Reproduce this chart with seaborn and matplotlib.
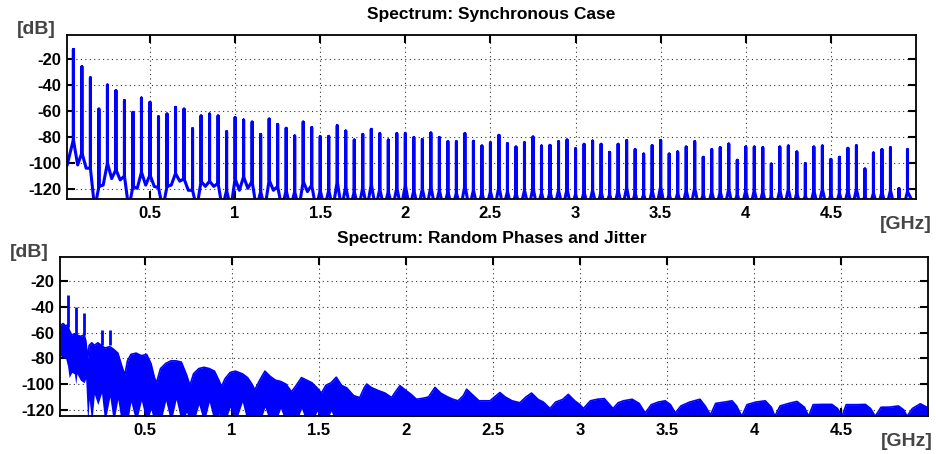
import numpy as np
import matplotlib
matplotlib.use("Agg")
import matplotlib.pyplot as plt
import seaborn as sns

# ---------------- data: synchronous case (harmonic spectrum) ----------------
harmonic_ghz = [0.05, 0.10, 0.15, 0.20, 0.25, 0.30, 0.35, 0.40, 0.45, 0.50,
                0.55, 0.60, 0.65, 0.70, 0.75, 0.80, 0.85, 0.90, 0.95, 1.00,
                1.05, 1.10, 1.15, 1.20, 1.25, 1.30, 1.35, 1.40, 1.45, 1.50,
                1.55, 1.60, 1.65, 1.70, 1.75, 1.80, 1.85, 1.90, 1.95, 2.00,
                2.05, 2.10, 2.15, 2.20, 2.25, 2.30, 2.35, 2.40, 2.45, 2.50,
                2.55, 2.60, 2.65, 2.70, 2.75, 2.80, 2.85, 2.90, 2.95, 3.00,
                3.05, 3.10, 3.15, 3.20, 3.25, 3.30, 3.35, 3.40, 3.45, 3.50,
                3.55, 3.60, 3.65, 3.70, 3.75, 3.80, 3.85, 3.90, 3.95, 4.00,
                4.05, 4.10, 4.15, 4.20, 4.25, 4.30, 4.35, 4.40, 4.45, 4.50,
                4.55, 4.60, 4.65, 4.70, 4.75, 4.80, 4.85, 4.90, 4.95]

peak_db = [-12.6, -25.9, -34.4, -58.5, -40.0, -44.4, -52.0, -61.0, -50.0, -53.3,
           -64.4, -62.3, -57.2, -58.5, -73.6, -63.8, -62.3, -63.8, -75.9, -65.1,
           -66.9, -68.5, -78.0, -66.2, -70.3, -73.3, -79.2, -68.5, -72.8, -79.7,
           -79.5, -71.3, -75.4, -82.3, -78.0, -74.1, -77.4, -82.3, -77.4, -77.4,
           -80.5, -82.0, -76.9, -80.5, -83.6, -83.6, -77.4, -83.3, -86.9, -84.4,
           -78.7, -85.1, -87.7, -84.4, -80.0, -86.9, -86.4, -83.6, -82.3, -89.0,
           -85.6, -83.1, -85.6, -91.8, -85.6, -82.8, -89.7, -93.1, -86.7, -82.6,
           -93.1, -91.5, -87.7, -83.6, -95.6, -89.7, -88.2, -85.4, -97.9, -87.7,
           -87.7, -88.2, -100.8, -87.7, -86.9, -91.5, -100.5, -87.7, -86.9, -97.2,
           -95.6, -88.7, -86.7, -104.6, -92.3, -89.7, -88.2, -119.7, -89.7]

skirt_db = [-82, -92, -104, -118, -100, -105, -110, -118, -107, -109,
            -119, -118, -108, -112, -121, -114, -114, -115.6, -121, -112,
            -110.5, -114, -122, -113, -118, -121, -122, -114, -117, -121,
            -121, -114, -118, -122, -119, -116, -120, -122, -119, -117,
            -121, -120, -118, -121, -122, -123, -117, -121, -123, -122,
            -118, -122, -123, -121, -119, -123, -122, -121, -120, -124,
            -122, -121, -122, -124, -121, -119, -123, -124, -121, -118,
            -124, -123, -121, -119, -124, -122, -122, -120, -124, -121,
            -121, -122, -125, -121, -120, -123, -125, -121, -120, -124,
            -123, -121, -120, -125, -123, -122, -121, -126, -122]

floor_start_db = -102.0
floor_after_db = ([-101.5, -104, -135, -117, -112, -113, -135, -119.5, -117, -118,
                   -135, -117, -114, -121, -135, -118, -118, -135, -135, -121,
                   -119.5, -135, -135, -121, -135, -135, -135, -122, -135]
                  + [-135.0] * 70)

# ---------------- data: random phases and jitter ----------------
noise_ghz = [0.012, 0.03, 0.045, 0.056, 0.065, 0.08, 0.095, 0.103, 0.11, 0.13,
             0.151, 0.16, 0.172, 0.18, 0.195, 0.21, 0.23, 0.251, 0.27, 0.299,
             0.32, 0.345, 0.365, 0.385, 0.40, 0.42, 0.45, 0.48, 0.51, 0.535,
             0.555, 0.567, 0.59, 0.62, 0.65, 0.68, 0.71, 0.74, 0.759, 0.78,
             0.81, 0.84, 0.87, 0.90, 0.925, 0.941, 0.96, 0.99, 1.02, 1.06,
             1.09, 1.115, 1.132, 1.16, 1.19, 1.22, 1.25, 1.28, 1.31, 1.343,
             1.37, 1.40, 1.43, 1.46, 1.49, 1.515, 1.54, 1.57, 1.60, 1.63,
             1.66, 1.70, 1.735, 1.76, 1.775, 1.80, 1.84, 1.88, 1.918, 1.94,
             1.966, 2.0, 2.03, 2.06, 2.10, 2.13, 2.167, 2.20, 2.24, 2.27,
             2.30, 2.33, 2.349, 2.38, 2.42, 2.45, 2.483, 2.51, 2.54, 2.57,
             2.61, 2.655, 2.69, 2.722, 2.76, 2.79, 2.828, 2.86, 2.90, 2.933,
             2.97, 3.0, 3.02, 3.06, 3.10, 3.14, 3.19, 3.22, 3.25, 3.30,
             3.34, 3.375, 3.41, 3.45, 3.49, 3.52, 3.548, 3.58, 3.63, 3.69,
             3.72, 3.75, 3.78, 3.83, 3.874, 3.90, 3.93, 3.96, 4.01, 4.065,
             4.10, 4.12, 4.15, 4.20, 4.247, 4.29, 4.314, 4.34, 4.40, 4.448,
             4.48, 4.506, 4.53, 4.59, 4.64, 4.67, 4.697, 4.73, 4.78, 4.83,
             4.86, 4.88, 4.91, 4.956, 5.0]

noise_upper_db = [-55, -53, -55, -54, -58, -62, -61, -62, -62, -63,
                  -62, -66, -80, -70, -68, -70, -68, -70, -72, -71,
                  -73, -76, -85, -93, -82, -77, -76, -78, -77, -84,
                  -95, -99, -88, -84, -82, -82, -83, -93, -101, -92,
                  -88, -87, -88, -90, -97, -102, -96, -91, -90, -92,
                  -95, -100, -104.5, -97, -90, -94, -97, -98, -100, -106,
                  -101, -95, -97, -99, -103, -107, -101, -99, -94.7, -101,
                  -103, -109, -110.5, -103, -100, -102.6, -105, -107, -110.5, -106,
                  -101.3, -105, -108, -111.8, -111, -110, -102.6, -107, -110, -111.8,
                  -113, -109, -104, -108, -113, -113, -113, -110, -106.6, -110,
                  -113, -114.5, -110, -107, -112, -114, -119, -114, -112, -108,
                  -113, -116, -119, -113, -111.8, -111.3, -119, -114.5, -113, -111.8,
                  -115, -122.4, -116, -114, -113, -116, -122.4, -117, -114, -111.8,
                  -117, -124, -115, -114, -113, -117, -125, -116, -114, -113,
                  -118, -125, -117, -115, -113.5, -118, -125, -116, -115.8, -115.8,
                  -119, -125, -116, -116, -115.8, -119, -125, -118, -117.9, -117,
                  -120, -125, -119, -115.3, -118.4]

noise_lower_db = ([-78, -79, -80, -86, -95, -91, -92, -100, -92, -97,
                   -99, -96, -130, -112, -130, -108, -116, -107, -130, -110,
                   -130, -112, -130, -130, -130, -114, -130, -113, -130, -120,
                   -130, -130, -130, -113, -130, -112, -130, -122, -130, -130,
                   -116, -130, -114, -130, -123, -130, -130, -118, -130, -114,
                   -130, -124, -130, -130, -118, -130, -130, -119, -130, -130,
                   -130, -119, -130, -130, -121, -130, -130, -121]
                  + [-130.0] * 97)

jitter_spike_ghz = [0.056, 0.103, 0.151, 0.251, 0.299]
jitter_spike_db = [-31, -40, -45, -58, -58]
jitter_spike_base_db = [-56, -62, -62, -70, -70]

y_ticks = [-120, -100, -80, -60, -40, -20]
x_ticks = [0.5, 1, 1.5, 2, 2.5, 3, 3.5, 4, 4.5]
x_tick_labels = ["0.5", "1", "1.5", "2", "2.5", "3", "3.5", "4", "4.5"]

# ---------------- styling ----------------
sns.set_style("ticks")
plt.rcParams["font.family"] = ["Liberation Sans", "DejaVu Sans"]
plt.rcParams["axes.unicode_minus"] = False

BLUE = "#0000ff"
W, H = 937, 454
fig = plt.figure(figsize=(W / 100, H / 100), dpi=100)

def px_axes(l, t, r, b):
    return fig.add_axes([l / W, 1 - b / H, (r - l) / W, (b - t) / H])

ax1 = px_axes(67, 35, 916, 199)
ax2 = px_axes(60, 257, 928, 416)

# --- top: synchronous spectrum as one polyline
f = np.asarray(harmonic_ghz)
x_left, x_right = 0.0125, 5.0
mids = np.append((f[:-1] + f[1:]) / 2, x_right)
xs = [x_left]
ys = [floor_start_db]
for i in range(len(f)):
    xs += [f[i], f[i], f[i], mids[i]]
    ys += [skirt_db[i], peak_db[i], skirt_db[i], floor_after_db[i]]
sns.lineplot(x=xs, y=ys, sort=False, estimator=None, color=BLUE, lw=2.2, ax=ax1)

# --- bottom: jitter spectrum as a dense band
ax2.fill_between(noise_ghz, noise_lower_db, noise_upper_db, color=BLUE, lw=0)
sns.lineplot(x=noise_ghz, y=noise_upper_db, sort=False, estimator=None,
             color=BLUE, lw=1.2, ax=ax2)
ax2.vlines(jitter_spike_ghz, jitter_spike_base_db, jitter_spike_db, color=BLUE, lw=2.0)

for ax, ylim in ((ax1, (-127.7, -1.5)), (ax2, (-124.8, -1.4))):
    ax.set_xlim(x_left, x_right)
    ax.set_ylim(*ylim)
    ax.set_xticks(x_ticks)
    ax.set_xticklabels(x_tick_labels)
    ax.set_yticks(y_ticks)
    ax.set_yticklabels([str(v) for v in y_ticks])
    ax.set_xlabel("")
    ax.set_ylabel("")
    ax.grid(True, color="#333333", linestyle=(0, (1, 3)), lw=0.8)
    ax.tick_params(direction="in", length=6, width=1.5, top=True, right=True,
                   labelsize=12, pad=4, colors="black")
    for lab in ax.get_xticklabels() + ax.get_yticklabels():
        lab.set_fontweight("bold")
    for s in ax.spines.values():
        s.set_visible(True)
        s.set_linewidth(1.3)
        s.set_color("black")
    ax.set_facecolor("white")

ax1.tick_params(axis="x", pad=5)
ax2.tick_params(axis="x", pad=5)

# titles and unit labels
fig.text(491.5 / W, 1 - 15 / H, "Spectrum: Synchronous Case", ha="center", va="center",
         fontsize=12.5, fontweight="bold", color="black")
fig.text(492 / W, 1 - 238.5 / H, "Spectrum: Random Phases and Jitter", ha="center",
         va="center", fontsize=12.5, fontweight="bold", color="black")
GRAY = "#454545"
fig.text(17 / W, 1 - 29 / H, "[dB]", ha="left", va="center", fontsize=14,
         fontweight="bold", color=GRAY)
fig.text(10 / W, 1 - 252.5 / H, "[dB]", ha="left", va="center", fontsize=14,
         fontweight="bold", color=GRAY)
fig.text(932 / W, 1 - 224.5 / H, "[GHz]", ha="right", va="center", fontsize=14,
         fontweight="bold", color=GRAY)
fig.text(933 / W, 1 - 442 / H, "[GHz]", ha="right", va="center", fontsize=14,
         fontweight="bold", color=GRAY)

fig.savefig("out.png", dpi=100, facecolor="white")
